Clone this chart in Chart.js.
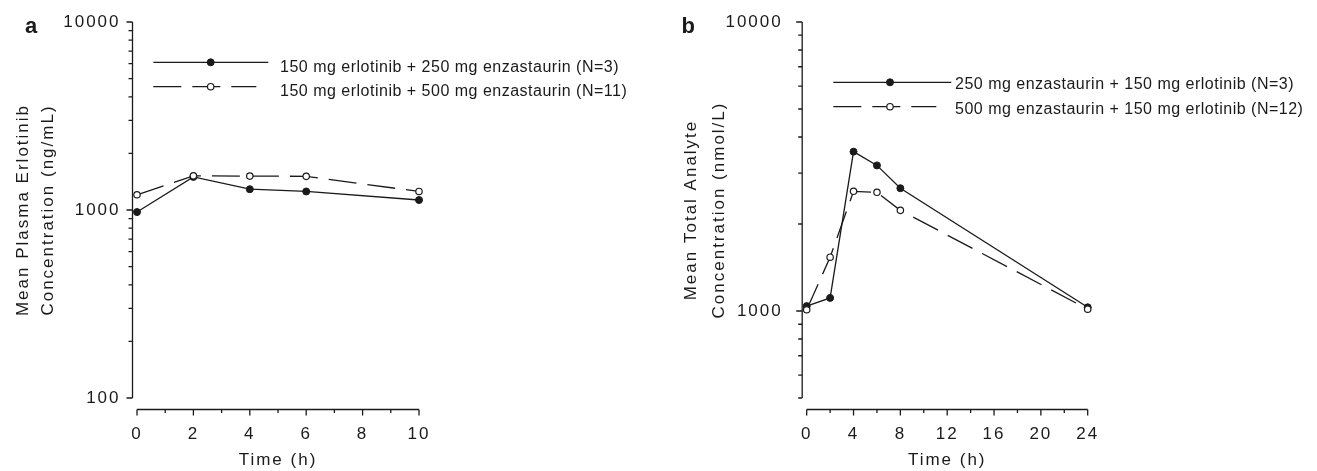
<!DOCTYPE html>
<html>
<head>
<meta charset="utf-8">
<script src="https://cdn.jsdelivr.net/npm/chart.js@4.4.0/dist/chart.umd.min.js"></script>
<style>
  html, body { margin: 0; padding: 0; background: #fff; }
  body { width: 1317px; height: 471px; position: relative; overflow: hidden; }
  .panel { position: absolute; top: 0; height: 471px; }
  #panelA { left: 0; width: 650px; }
  #panelB { left: 650px; width: 667px; }
</style>
</head>
<body>
<div class="panel" id="panelA"><canvas id="chartA"></canvas></div>
<div class="panel" id="panelB"><canvas id="chartB"></canvas></div>
<script>
// Panel a - plasma erlotinib (ng/mL)
const timeA = [0, 2, 4, 6, 10];
const erlotinib250 = [975, 1500, 1290, 1255, 1130];
const erlotinib500 = [1205, 1520, 1515, 1510, 1255];
const xTicksA = [0, 2, 4, 6, 8, 10];
const xMinorA = [1, 3, 5, 7, 9];
const yTicksA = [100, 1000, 10000];
const legendA = [
  "150 mg erlotinib + 250 mg enzastaurin (N=3)",
  "150 mg erlotinib + 500 mg enzastaurin (N=11)",
];

// Panel b - total analyte (nmol/L)
const timeB = [0, 2, 4, 6, 8, 24];
const enza250 = [1040, 1110, 3560, 3190, 2660, 1030];
const enza500 = [1010, 1535, 2595, 2575, 2230, 1015];
const xTicksB = [0, 4, 8, 12, 16, 20, 24];
const xMinorB = [2, 6, 10, 14, 18, 22];
const yTicksB = [1000, 10000];
const legendB = [
  "250 mg enzastaurin + 150 mg erlotinib (N=3)",
  "500 mg enzastaurin + 150 mg erlotinib (N=12)",
];

const INK = "#1a1a1a";
const FAMILY = "'Liberation Sans', Arial, Helvetica, sans-serif";
const DASH = [28, 11];

Chart.defaults.font.family = FAMILY;
Chart.defaults.color = INK;

function toPoints(xs, ys) {
  return xs.map((x, i) => ({ x: x, y: ys[i] }));
}

function makeDatasets(xs, solid, dashed) {
  return [
    {
      data: toPoints(xs, solid),
      borderColor: INK,
      borderWidth: 1.3,
      pointRadius: 3.5,
      pointBackgroundColor: INK,
      pointBorderColor: INK,
      pointBorderWidth: 1,
      clip: false,
      order: 1,
    },
    {
      data: toPoints(xs, dashed),
      borderColor: INK,
      borderWidth: 1.3,
      borderDash: DASH,
      pointRadius: 3.2,
      pointBackgroundColor: "#ffffff",
      pointBorderColor: INK,
      pointBorderWidth: 1.2,
      clip: false,
      order: 0,
    },
  ];
}

// spacing of the original lettering
const spacingPlugin = {
  id: "spacing",
  beforeDraw(chart) {
    chart.ctx.letterSpacing = "2px";
  },
};

// axis lines offset from the plot, with major and minor ticks
const axesPlugin = {
  id: "axes",
  beforeDatasetsDraw(chart, args, opts) {
    const { ctx, chartArea } = chart;
    const xs = chart.scales.x;
    const ys = chart.scales.y;
    const ax = chartArea.left - 4.5;
    const ay = chartArea.bottom + 11.5;
    ctx.save();
    ctx.strokeStyle = INK;
    ctx.lineWidth = 1.3;
    ctx.beginPath();
    ctx.moveTo(ax, ys.getPixelForValue(ys.max));
    ctx.lineTo(ax, ys.getPixelForValue(ys.min));
    ctx.moveTo(xs.getPixelForValue(xs.min), ay);
    ctx.lineTo(xs.getPixelForValue(xs.max), ay);

    opts.yMajor.forEach((v) => {
      const py = ys.getPixelForValue(v);
      ctx.moveTo(ax - 6, py);
      ctx.lineTo(ax, py);
    });
    // minor log ticks 2..9 of each decade
    let d = Math.pow(10, Math.floor(Math.log10(ys.min)));
    for (; d < ys.max; d *= 10) {
      for (let m = 2; m <= 9; m++) {
        const v = m * d;
        if (v < ys.min - 1e-6 || v > ys.max) continue;
        const py = ys.getPixelForValue(v);
        ctx.moveTo(ax - 4, py);
        ctx.lineTo(ax, py);
      }
    }

    opts.xMajor.forEach((v) => {
      const px = xs.getPixelForValue(v);
      ctx.moveTo(px, ay);
      ctx.lineTo(px, ay + 6);
    });
    opts.xMinor.forEach((v) => {
      const px = xs.getPixelForValue(v);
      ctx.moveTo(px, ay);
      ctx.lineTo(px, ay + 3.5);
    });
    ctx.stroke();
    ctx.restore();
  },
};

// legend drawn in the plot like the original: line sample, marker, label
const keyPlugin = {
  id: "key",
  afterDraw(chart, args, opts) {
    const { ctx } = chart;
    ctx.save();
    chart.data.datasets.forEach((ds, i) => {
      const y = opts.y + i * opts.gap;
      const dashed = ds.borderDash && ds.borderDash.length;
      ctx.strokeStyle = ds.borderColor;
      ctx.lineWidth = ds.borderWidth;
      ctx.setLineDash(dashed ? ds.borderDash : []);
      ctx.beginPath();
      ctx.moveTo(opts.x, y);
      ctx.lineTo(opts.x + (dashed ? 103 : opts.len), y);
      ctx.stroke();
      ctx.setLineDash([]);
      ctx.beginPath();
      ctx.arc(opts.mx, y, ds.pointRadius, 0, Math.PI * 2);
      ctx.fillStyle = ds.pointBackgroundColor;
      ctx.fill();
      ctx.lineWidth = ds.pointBorderWidth;
      ctx.strokeStyle = ds.pointBorderColor;
      ctx.stroke();

      ctx.letterSpacing = "0.5px";
      ctx.font = "16px " + FAMILY;
      ctx.fillStyle = INK;
      ctx.textAlign = "left";
      ctx.textBaseline = "alphabetic";
      ctx.fillText(opts.labels[i], opts.tx, y + opts.base);
    });
    ctx.letterSpacing = "0px";
    ctx.font = "bold 22px " + FAMILY;
    ctx.fillText(opts.panel, opts.px, 33.3);
    ctx.restore();
  },
};

function noPadding(s) {
  s.paddingTop = 0;
  s.paddingBottom = 0;
  s.paddingLeft = 0;
  s.paddingRight = 0;
}

function makeChart(id, cfg) {
  const font = { size: 17, family: FAMILY };
  return new Chart(document.getElementById(id), {
    type: "line",
    data: { datasets: makeDatasets(cfg.time, cfg.solid, cfg.dashed) },
    plugins: [spacingPlugin, axesPlugin, keyPlugin],
    options: {
      responsive: true,
      maintainAspectRatio: false,
      animation: false,
      layout: { padding: { top: 22, left: 0, bottom: 0, right: cfg.padRight } },
      elements: { line: { tension: 0 } },
      plugins: {
        legend: { display: false },
        tooltip: { enabled: false },
        axes: { xMajor: cfg.xTicks, xMinor: cfg.xMinor, yMajor: cfg.yTicks },
        key: cfg.key,
      },
      scales: {
        x: {
          type: "linear",
          min: cfg.xTicks[0],
          max: cfg.xTicks[cfg.xTicks.length - 1],
          grid: { display: false, drawTicks: false },
          border: { display: false },
          afterBuildTicks: (s) => {
            s.ticks = cfg.xTicks.map((v) => ({ value: v }));
          },
          afterFit: (s) => {
            s.height = 73;
            noPadding(s);
          },
          ticks: { padding: 26, font: font, color: INK, maxRotation: 0, autoSkip: false, callback: (v) => String(v) },
          title: { display: true, text: "Time (h)", font: font, color: INK, padding: { top: 0, bottom: 0 } },
        },
        y: {
          type: "logarithmic",
          min: cfg.yMin,
          max: 10000,
          grid: { display: false, drawTicks: false },
          border: { display: false },
          afterBuildTicks: (s) => {
            s.ticks = cfg.yTicks.map((v) => ({ value: v }));
          },
          afterFit: (s) => {
            s.width = cfg.yWidth;
            noPadding(s);
          },
          ticks: { padding: cfg.yPad, font: font, color: INK, autoSkip: false, callback: (v) => String(v) },
          title: {
            display: true,
            text: cfg.yTitle,
            font: { size: 17, family: FAMILY, lineHeight: cfg.titleLH },
            color: INK,
            padding: { top: cfg.titlePad, bottom: 0 },
          },
        },
      },
    },
  });
}

document.addEventListener("DOMContentLoaded", function () {
  makeChart("chartA", {
    time: timeA,
    solid: erlotinib250,
    dashed: erlotinib500,
    xTicks: xTicksA,
    xMinor: xMinorA,
    yTicks: yTicksA,
    yMin: 100,
    yWidth: 137,
    yPad: 16.5,
    padRight: 231,
    yTitle: ["Mean Plasma Erlotinib", "Concentration (ng/mL)"],
    titleLH: 1.47,
    titlePad: 11,
    key: { x: 153.3, len: 115, y: 62.3, gap: 24.4, mx: 210.7, tx: 280, base: 9.4, labels: legendA, panel: "a", px: 25 },
  });

  makeChart("chartB", {
    time: timeB,
    solid: enza250,
    dashed: enza500,
    xTicks: xTicksB,
    xMinor: xMinorB,
    yTicks: yTicksB,
    yMin: 500,
    yWidth: 156.7,
    yPad: 24,
    padRight: 229.3,
    yTitle: ["Mean Total Analyte", "Concentration (nmol/L)"],
    titleLH: 1.67,
    titlePad: 27,
    key: { x: 183.3, len: 118, y: 82.3, gap: 24.4, mx: 240, tx: 305, base: 7, labels: legendB, panel: "b", px: 31.5 },
  });
});
</script>
</body>
</html>
